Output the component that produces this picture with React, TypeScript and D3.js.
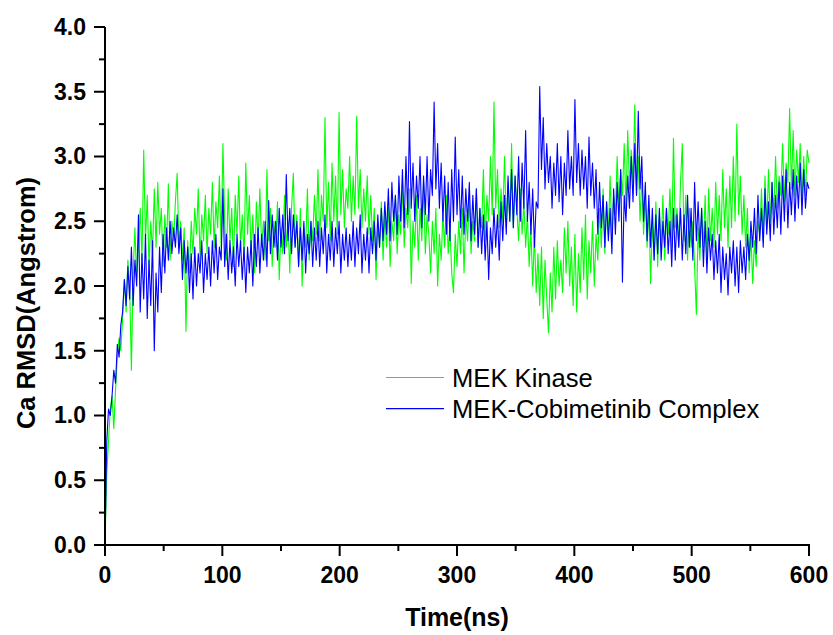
import React from "react";
import * as d3 from "d3";

const width = 833;
const height = 635;
const margin = { top: 27, right: 24, bottom: 90, left: 105 };

// time axis: one sample every 1.5 ns, 0..600 ns
const timeStep = 1.5;
const timeTicks = [0, 100, 200, 300, 400, 500, 600];
const timeMinor = [50, 150, 250, 350, 450, 550];
const rmsdTicks = [0, 0.5, 1.0, 1.5, 2.0, 2.5, 3.0, 3.5, 4.0];
const rmsdMinor = [0.25, 0.75, 1.25, 1.75, 2.25, 2.75, 3.25, 3.75];

const seriesNames = ["MEK Kinase", "MEK-Cobimetinib Complex"];
const seriesColors = ["#00ff00", "#0000ff"];

// MEK Kinase (green), one row = 15 ns
const kinaseRmsd = [
  0, 0.55, 0.8, 1.05, 1.15, 0.9, 1.2, 1.45, 1.6, 1.5,
  1.75, 2.05, 1.8, 2.2, 2.0, 1.35, 2.1, 2.45, 2.05, 2.3,
  2.6, 2.2, 3.05, 2.35, 2.7, 2.15, 2.5, 2.25, 2.75, 2.3,
  2.8, 2.4, 2.6, 2.15, 2.55, 2.3, 2.79, 2.2, 2.5, 2.35,
  2.65, 2.87, 2.3, 2.5, 2.2, 2.45, 1.65, 2.35, 2.1, 2.5,
  2.25, 2.6, 2.4, 2.75, 2.2, 2.55, 2.35, 2.7, 2.25, 2.6,
  2.4, 2.8, 2.3, 2.65, 2.45, 2.85, 2.3, 3.1, 2.5, 2.2,
  2.75, 2.35, 2.6, 2.15, 2.7, 2.4, 2.85, 2.3, 2.55, 2.2,
  2.95, 2.4, 2.7, 2.25, 2.55, 2.1, 2.65, 2.35, 2.75, 2.3,
  2.5, 2.2, 2.9, 2.35, 2.6, 2.15, 2.5, 2.3, 2.65, 2.05,
  2.45, 2.25, 2.7, 2.3, 2.5, 2.1, 2.6, 2.87, 2.3, 2.55,
  2.15, 2.6, 2.0, 2.45, 2.3, 2.75, 2.2, 2.5, 2.35, 2.7,
  2.4, 2.9, 2.35, 2.7, 2.5, 3.3, 2.45, 2.8, 2.35, 2.95,
  2.5, 2.85, 2.4, 3.34, 2.55, 2.9, 2.45, 2.75, 2.6, 3.0,
  2.5, 2.85, 2.55, 3.31, 2.6, 2.9, 2.45, 2.75, 2.5, 2.85,
  2.4, 2.7, 2.35, 2.6, 2.05, 2.5, 2.3, 2.65, 2.2, 2.55,
  2.3, 2.65, 2.15, 2.5, 2.35, 2.7, 2.25, 2.55, 2.4, 2.8,
  2.3, 2.6, 2.45, 2.75, 2.02, 2.5, 2.3, 2.7, 2.2, 2.6,
  2.35, 2.8, 2.25, 2.55, 2.4, 2.1, 2.5, 2.25, 2.6, 2.0,
  2.4, 2.2, 2.55, 2.3, 2.7, 2.25, 2.45, 2.1, 1.95, 2.4,
  2.15, 2.5, 2.25, 2.6, 2.1, 2.55, 2.35, 2.7, 2.25, 2.5,
  2.35, 2.75, 2.3, 2.6, 2.45, 2.9, 2.35, 2.7, 2.5, 3.0,
  2.55, 3.42, 2.6, 2.9, 2.45, 2.75, 2.5, 3.0, 2.45, 2.8,
  2.5, 3.1, 2.45, 2.85, 2.6, 2.35, 2.75, 2.4, 2.65, 2.3,
  2.55, 2.15, 2.45, 2.0, 2.4, 1.95, 2.25, 1.85, 2.3, 1.75,
  2.2, 1.9, 1.64, 2.1, 1.8, 2.3, 1.9, 2.35, 2.0, 2.2,
  1.95, 2.45, 2.1, 2.5, 2.0, 2.3, 1.85, 2.4, 1.8, 2.25,
  1.95, 2.45, 2.05, 2.55, 1.9, 2.35, 2.1, 2.5, 2.0, 2.4,
  2.2, 2.6, 2.3, 2.75, 2.25, 2.65, 2.4, 2.85, 2.35, 2.7,
  2.55, 3.0, 2.6, 2.9, 2.7, 3.1, 2.6, 3.2, 2.75, 3.05,
  2.8, 3.4, 2.7, 3.0, 2.5, 2.85, 2.4, 2.7, 2.3, 2.6,
  2.02, 2.5, 2.2, 2.65, 2.15, 2.55, 2.3, 2.7, 2.2, 2.6,
  2.4, 2.75, 2.3, 3.14, 2.45, 2.6, 2.3, 2.8, 3.1, 2.35,
  2.7, 2.2, 2.6, 2.3, 2.5, 2.15, 1.78, 2.45, 2.2, 2.6,
  2.3, 2.7, 2.2, 2.75, 2.35, 2.6, 2.3, 2.8, 2.4, 2.7,
  2.35, 2.9, 2.45, 2.75, 2.3, 2.85, 2.45, 3.0, 2.5, 3.25,
  2.55, 2.85, 2.4, 2.7, 2.3, 2.6, 2.1, 2.4, 2.02, 2.35,
  2.15, 2.5, 2.4, 2.75, 2.35, 2.85, 2.45, 2.9, 2.5, 2.8,
  2.55, 3.0, 2.6, 2.85, 2.7, 3.1, 2.65, 2.95, 2.8, 3.37,
  2.75, 3.2, 2.7, 3.05, 2.8, 3.1, 2.65, 3.0, 2.7, 3.05,
  2.95
];

// MEK-Cobimetinib complex (blue), one row = 15 ns
const complexRmsd = [
  0, 0.8, 1.05, 1.0, 1.15, 1.35, 1.25, 1.55, 1.45, 1.7,
  1.8, 2.05, 1.85, 2.15, 1.9, 2.3, 1.85, 2.2, 2.0, 2.55,
  1.8, 2.25, 1.9, 2.4, 1.75, 2.2, 1.85, 2.35, 1.5, 2.1,
  1.8, 2.3, 1.95, 2.4, 2.1, 2.45, 2.2, 2.5, 2.25, 2.45,
  2.3, 2.55, 2.25, 2.45, 2.05, 2.35, 2.1, 2.3, 1.95, 2.25,
  1.9, 2.3, 2.0, 2.25, 2.1, 2.35, 1.95, 2.25, 2.05, 2.3,
  2.0, 2.35, 2.1, 2.4, 2.05, 2.3, 2.2, 2.75, 2.15, 2.4,
  2.05, 2.35, 2.1, 2.3, 2.0, 2.4, 2.15, 2.35, 2.05, 2.3,
  1.95, 2.3, 2.1, 2.35, 2.0, 2.4, 2.15, 2.45, 2.1, 2.4,
  2.2, 2.5, 2.15, 2.66, 2.25, 2.55, 2.3, 2.5, 2.2, 2.6,
  2.3, 2.55, 2.25, 2.86, 2.35, 2.6, 2.25, 2.55, 2.3, 2.5,
  2.15, 2.45, 2.2, 2.5, 2.1, 2.4, 2.25, 2.5, 2.15, 2.45,
  2.2, 2.5, 2.15, 2.45, 2.25, 2.55, 2.1, 2.4, 2.2, 2.5,
  2.15, 2.45, 2.25, 2.5, 2.1, 2.4, 2.2, 2.45, 2.15, 2.4,
  2.2, 2.5, 2.15, 2.45, 2.25, 2.55, 2.1, 2.4, 2.2, 2.45,
  2.1, 2.45, 2.25, 2.5, 2.2, 2.55, 2.3, 2.6, 2.35, 2.65,
  2.4, 2.75, 2.35, 2.8, 2.5, 2.7, 2.4, 2.85, 2.5, 2.9,
  2.45, 3.0, 2.55, 3.27, 2.6, 2.95, 2.5, 2.85, 2.6, 3.0,
  2.45, 2.85, 2.55, 3.0, 2.5, 2.9, 2.7, 3.42, 2.75, 3.1,
  2.6, 2.95, 2.5, 2.85, 2.4, 2.8, 2.35, 2.9, 2.5, 3.15,
  2.55, 2.9, 2.45, 2.85, 2.4, 2.75, 2.5, 2.8, 2.35, 2.7,
  2.4, 2.75, 2.3, 2.6, 2.25, 2.55, 2.2, 2.5, 2.05, 2.45,
  2.25, 2.6, 2.3, 2.55, 2.2, 2.65, 2.35, 2.7, 2.4, 2.85,
  2.5, 2.9, 2.45, 2.85, 2.55, 3.0, 2.5, 2.95, 2.6, 3.2,
  2.5, 2.8, 2.4, 2.75, 2.3, 2.65, 2.6, 3.54, 2.9, 3.3,
  2.75, 3.1, 2.8, 3.0, 2.6, 2.95, 2.7, 3.1, 2.65, 3.0,
  2.55, 2.95, 2.7, 3.2, 2.75, 3.0, 2.7, 3.44, 2.8, 3.1,
  2.7, 3.05, 2.75, 3.0, 2.6, 3.15, 2.7, 2.95, 2.6, 2.9,
  2.4, 2.8, 2.45, 2.7, 2.3, 2.65, 2.35, 2.6, 2.25, 2.75,
  2.4, 2.8, 2.5, 2.9, 2.03, 2.7, 2.5, 2.85, 2.6, 3.0,
  2.65, 3.1, 2.7, 3.35, 2.75, 3.0, 2.5, 2.8, 2.35, 2.7,
  2.3, 2.6, 2.2, 2.55, 2.25, 2.6, 2.2, 2.5, 2.3, 2.6,
  2.25, 2.5, 2.15, 2.6, 2.2, 2.55, 2.3, 2.6, 2.2, 2.55,
  2.25, 2.7, 2.3, 2.6, 2.2, 2.8, 2.35, 2.65, 2.3, 2.6,
  2.15, 2.5, 2.1, 2.45, 2.2, 2.4, 2.05, 2.35, 2.1, 2.4,
  1.95, 2.3, 2.05, 2.25, 1.93, 2.3, 2.1, 2.35, 2.0, 2.3,
  1.95, 2.35, 2.1, 2.3, 2.05, 2.4, 2.2, 2.5, 2.3, 2.6,
  2.25, 2.7, 2.35, 2.6, 2.3, 2.75, 2.4, 2.65, 2.35, 2.8,
  2.4, 2.7, 2.45, 2.8, 2.4, 2.85, 2.5, 2.9, 2.45, 2.8,
  2.55, 2.9, 2.5, 2.85, 2.6, 2.95, 2.55, 2.9, 2.6, 2.8,
  2.75
];

const font = "'Liberation Sans', Arial, sans-serif";

export default function App() {
  const x = d3.scaleLinear().domain([0, 600]).range([margin.left, width - margin.right]);
  const y = d3.scaleLinear().domain([0, 4]).range([height - margin.bottom, margin.top]);

  const line = d3
    .line<number>()
    .x((_, i) => x(i * timeStep))
    .y((d) => y(d));

  const series = [kinaseRmsd, complexRmsd];
  const y0 = y(0);
  const x0 = x(0);

  return (
    <svg width={width} height={height} style={{ display: "block", position: "absolute", left: 0, top: 0 }}>
      <rect width={width} height={height} fill="#fff" />
      {series.map((s, k) => (
        <path key={k} d={line(s) || ""} fill="none" stroke={seriesColors[k]} strokeWidth={1.1} strokeLinejoin="round" />
      ))}

      {/* axes */}
      <g stroke="#000" strokeWidth={2}>
        <line x1={x0} x2={x(600) + 1} y1={y0} y2={y0} />
        <line x1={x0} x2={x0} y1={y0 + 1} y2={y(4)} />
        {timeTicks.map((t) => (
          <line key={"xt" + t} x1={x(t)} x2={x(t)} y1={y0} y2={y0 + 11} />
        ))}
        {timeMinor.map((t) => (
          <line key={"xm" + t} x1={x(t)} x2={x(t)} y1={y0} y2={y0 + 6} />
        ))}
        {rmsdTicks.map((v) => (
          <line key={"yt" + v} x1={x0 - 11} x2={x0} y1={y(v)} y2={y(v)} />
        ))}
        {rmsdMinor.map((v) => (
          <line key={"ym" + v} x1={x0 - 6} x2={x0} y1={y(v)} y2={y(v)} />
        ))}
      </g>

      <g fontFamily={font} fontWeight="bold" fill="#000">
        {timeTicks.map((t) => (
          <text key={"xl" + t} x={x(t)} y={583} fontSize={23} textAnchor="middle">
            {t}
          </text>
        ))}
        {rmsdTicks.map((v) => (
          <text key={"yl" + v} x={86} y={y(v) + 7.8} fontSize={23} textAnchor="end">
            {v.toFixed(1)}
          </text>
        ))}
        <text x={457} y={626} fontSize={25} textAnchor="middle">
          Time(ns)
        </text>
        <text transform={`translate(35,${303}) rotate(-90)`} fontSize={25.5} textAnchor="middle">
          Ca RMSD(Angstrom)
        </text>
      </g>

      {/* legend */}
      <g fontFamily={font} fontSize={25.6}>
        {seriesNames.map((name, k) => {
          const ly = 377.5 + k * 31.2;
          return (
            <g key={name}>
              <line x1={386} x2={444} y1={ly} y2={ly} stroke={seriesColors[k]} strokeWidth={1.2} />
              <text x={452} y={ly + 9} fill="#000">
                {name}
              </text>
            </g>
          );
        })}
      </g>
    </svg>
  );
}
